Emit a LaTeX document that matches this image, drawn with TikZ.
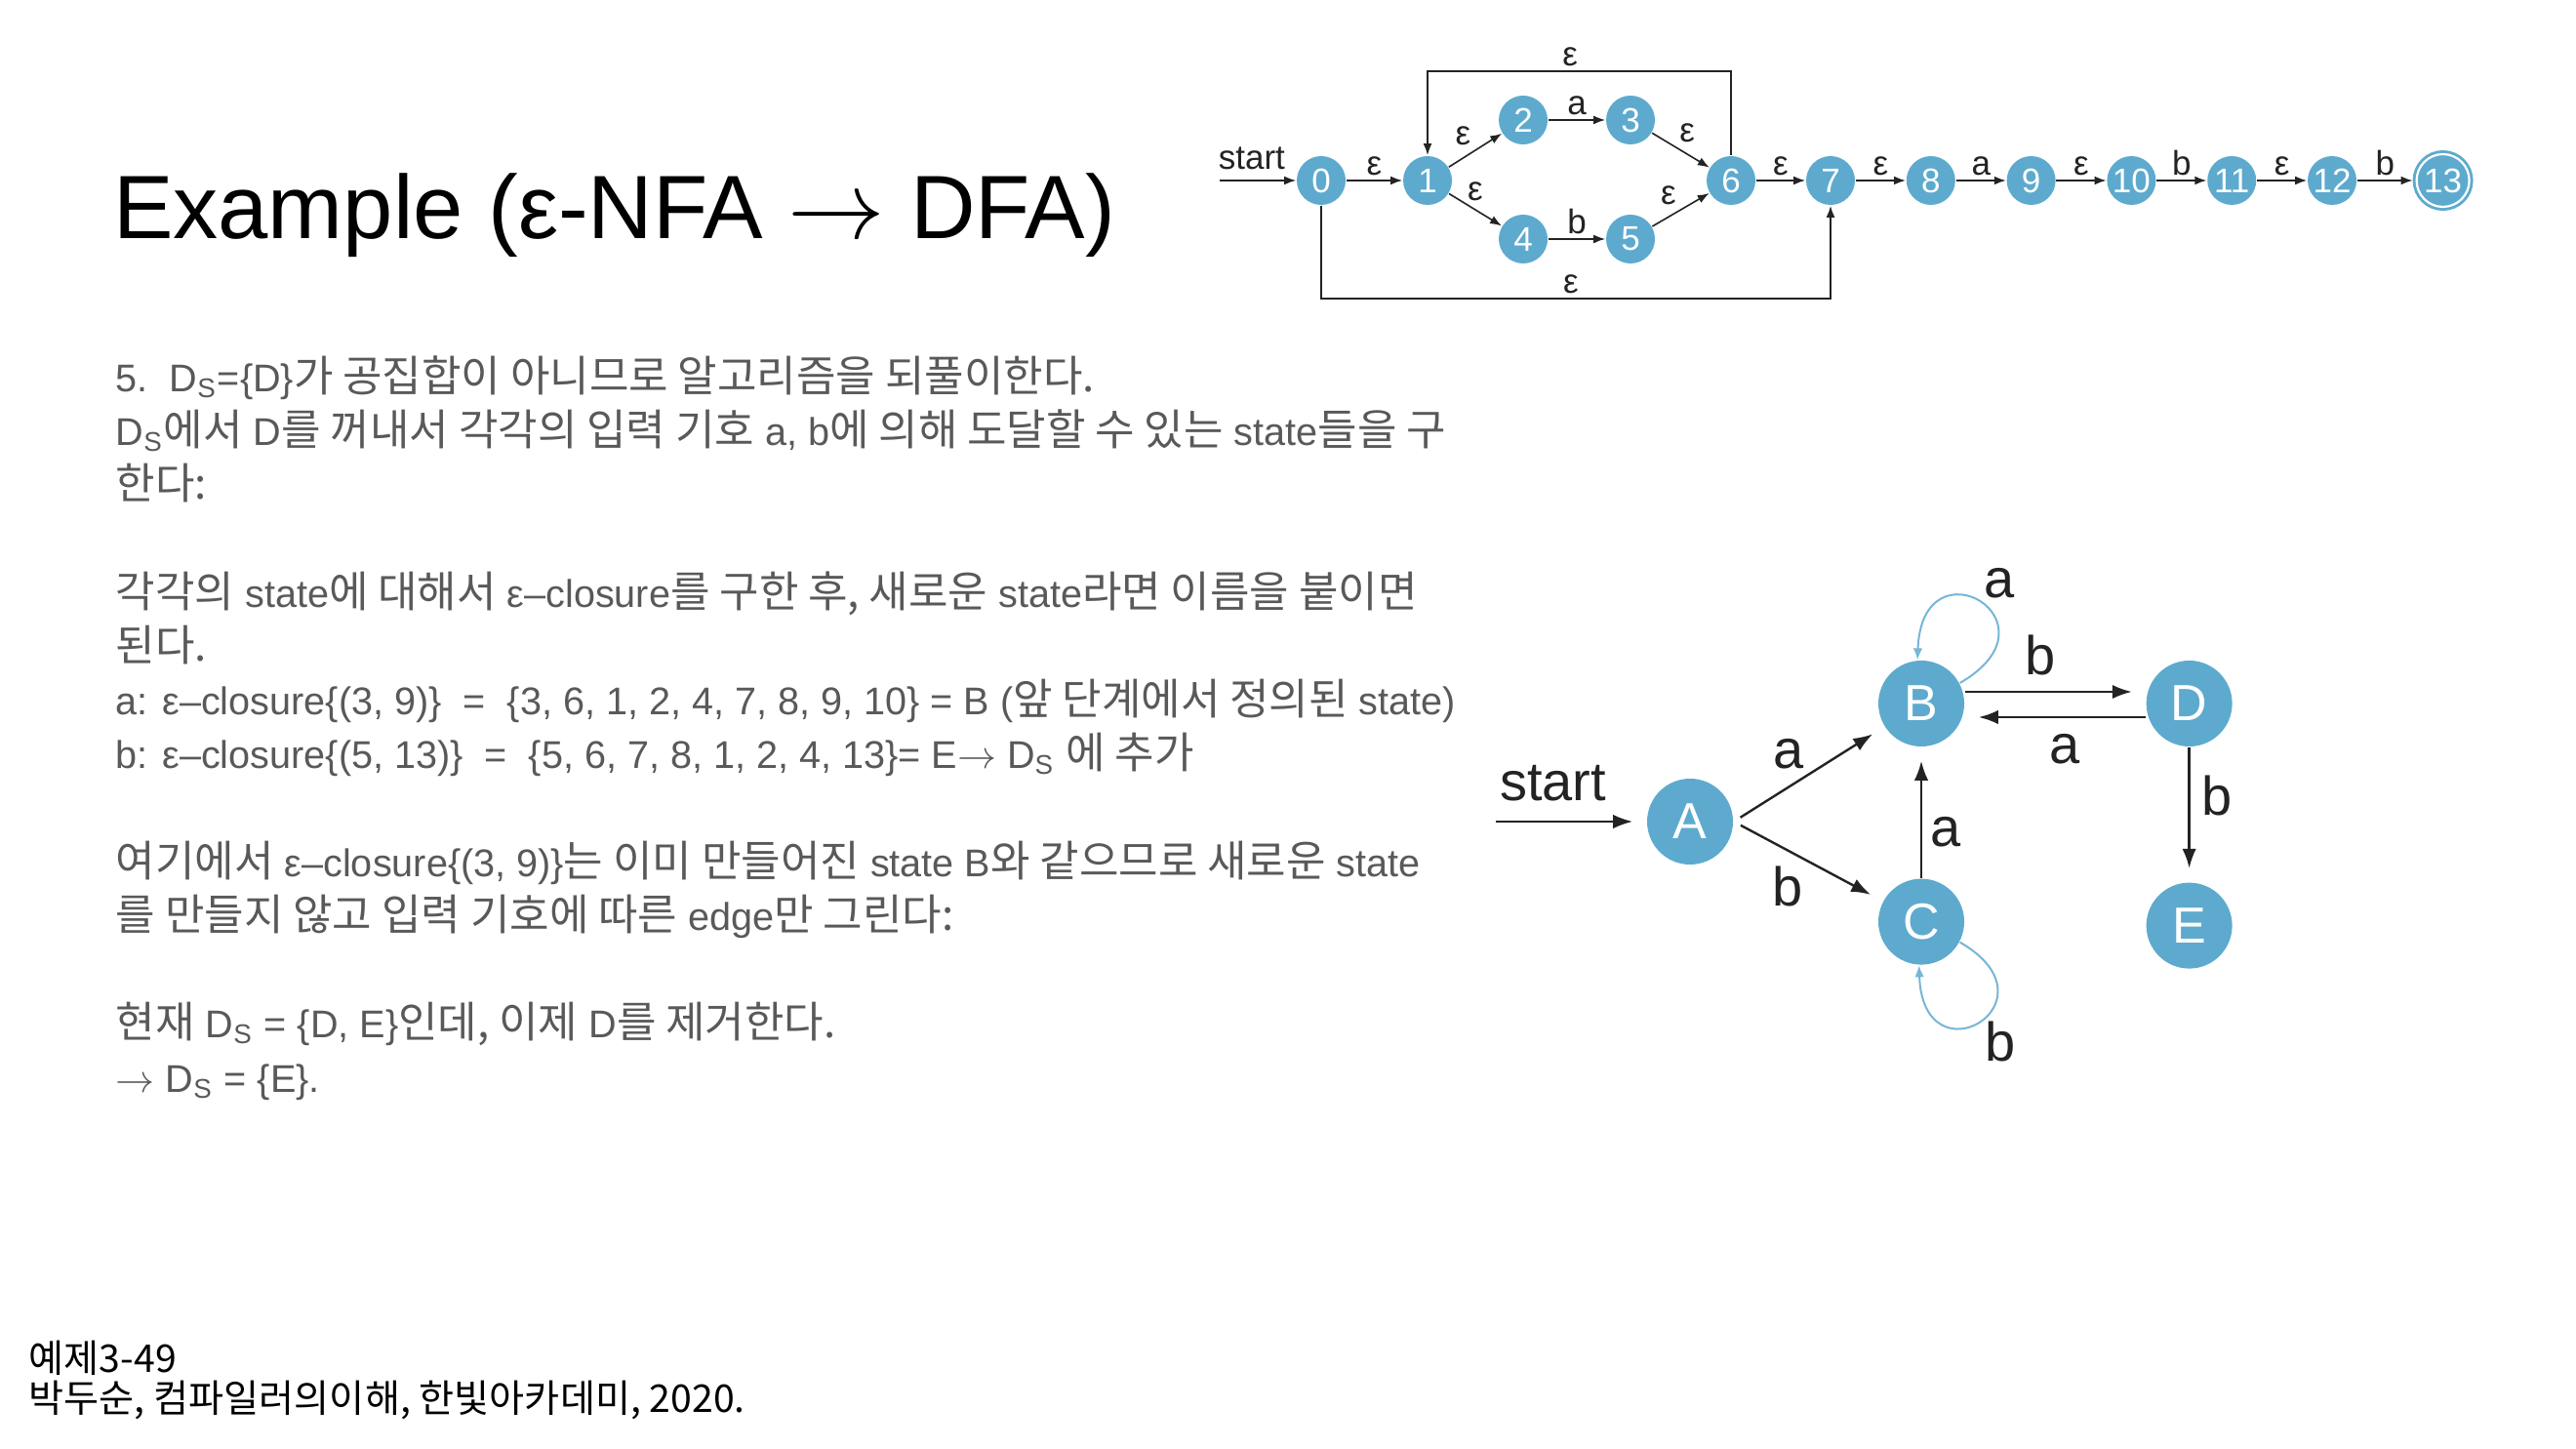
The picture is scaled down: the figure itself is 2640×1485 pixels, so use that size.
\documentclass[tikz,border=0pt]{standalone}
\usepackage{fontspec}
\setmainfont{Liberation Sans}
\newfontfamily\kofont{Noto Sans CJK KR}
\usetikzlibrary{positioning, arrows.meta}
\definecolor{stateblue}{RGB}{94,170,206}
\definecolor{loopblue}{RGB}{118,182,214}
\definecolor{bodygray}{RGB}{89,89,89}
\definecolor{inkdark}{RGB}{35,35,35}
\newcommand{\ko}[1]{{\kofont\fontsize{11}{13.8}\selectfont #1}}
\newcommand{\Ds}{D\textsubscript{S}}

\begin{document}
\begin{tikzpicture}[x=0.25pt, y=-0.25pt, >={Latex[length=3pt, width=2.2pt]},
  nst/.style={circle, fill=stateblue, text=white, minimum size=12.5pt, inner sep=0pt,
              font=\fontsize{8.75}{10}\selectfont},
  nfin/.style={nst, minimum size=13.5pt, draw=white, line width=0.55pt,
               preaction={draw=stateblue, line width=2pt}, outer sep=1pt},
  dst/.style={circle, fill=stateblue, text=white, minimum size=22pt, inner sep=0pt,
              font=\fontsize{13}{15}\selectfont},
  nlbl/.style={inner sep=1pt, text=inkdark, font=\fontsize{8.75}{10}\selectfont},
  dlbl/.style={inner sep=1pt, text=inkdark, font=\fontsize{14}{16}\selectfont},
  nedge/.style={->, draw=inkdark, line width=0.4pt},
  dedge/.style={-{Latex[length=5pt, width=3.6pt]}, draw=inkdark, line width=0.6pt,
                shorten >=3.5pt},
  selfloop/.style={-{Latex[length=3pt, width=2.4pt]}, draw=loopblue, line width=0.5pt},
  bodytxt/.style={inner sep=0pt, align=left, text=bodygray,
                  font=\fontsize{9.9}{13.8}\selectfont}]
  \useasboundingbox (0,0) rectangle (2640,1485);
  % title
  \node[anchor=base west, font=\fontsize{23.05}{27}\selectfont] (title) at (102,245)
    {Example (ε-NFA $\rightarrow$ DFA)};
  % e-NFA (top right)
  \node[nst] (n0) at (1354,185) {0};
  \node[nst] (n1) at (1463,185) {1};
  \node[nst] (n2) at (1561,123) {2};
  \node[nst] (n3) at (1671,123) {3};
  \node[nst] (n4) at (1561,245) {4};
  \node[nst] (n5) at (1671,245) {5};
  \node[nst] (n6) at (1774,185) {6};
  \node[nst] (n7) at (1876,185) {7};
  \node[nst, right=12.8pt of n7] (n8) {8};
  \node[nst, right=12.8pt of n8] (n9) {9};
  \node[nst, right=12.8pt of n9] (n10) {10};
  \node[nst, right=12.8pt of n10] (n11) {11};
  \node[nst, right=12.8pt of n11] (n12) {12};
  \node[nfin, right=14.2pt of n12] (n13) {13};
  \coordinate (s0) at (1250,185);
  \coordinate (tl) at (1463,73);
  \coordinate (br) at (1876,306);
  % e-NFA edges
  \draw[nedge] (s0) -- node[nlbl, above=1.5pt, pos=0.42] (st0) {start} (n0);
  \draw[nedge] (n0) -- node[nlbl, above] (e01) {ε} (n1);
  \draw[nedge] (n1) -- node[nlbl, above left] (e12) {ε} (n2);
  \draw[nedge] (n1) -- node[nlbl, above=1pt] (e14) {ε} (n4);
  \draw[nedge] (n2) -- node[nlbl, above] (e23) {a} (n3);
  \draw[nedge] (n4) -- node[nlbl, above] (e45) {b} (n5);
  \draw[nedge] (n3) -- node[nlbl, above right, pos=0.4] (e36) {ε} (n6);
  \draw[nedge] (n5) -- node[nlbl, above left] (e56) {ε} (n6);
  \draw[nedge] (n6) -- node[nlbl, above] (e67) {ε} (n7);
  \draw[nedge] (n7) -- node[nlbl, above] (e78) {ε} (n8);
  \draw[nedge] (n8) -- node[nlbl, above] (e89) {a} (n9);
  \draw[nedge] (n9) -- node[nlbl, above] (e910) {ε} (n10);
  \draw[nedge] (n10) -- node[nlbl, above] (e1011) {b} (n11);
  \draw[nedge] (n11) -- node[nlbl, above] (e1112) {ε} (n12);
  \draw[nedge] (n12) -- node[nlbl, above] (e1213) {b} (n13);
  \draw[nedge] (n6) |- node[nlbl, above, pos=0.765] (e61) {ε} (tl) -- (n1);
  \draw[nedge] (n0) |- node[nlbl, above, pos=0.745] (e07) {ε} (br) -- (n7);
  % DFA (right)
  \node[dst] (A) at (1732,842) {A};
  \node[dst] (B) at (1969,721) {B};
  \node[dst, below=33.5pt of B] (C) {C};
  \node[dst, right=46.25pt of B] (D) {D};
  \node[dst, below=34.5pt of D] (E) {E};
  \coordinate (s1) at (1533,842);
  \draw[dedge] (s1) -- node[dlbl, above=4pt, pos=0.38] (st1) {start} (A);
  \draw[dedge, shorten <=2pt] (A.east) -- node[dlbl, above left] (eab) {a} (B);
  \draw[dedge, shorten <=2pt] (A.east) -- node[dlbl, below left] (eac) {b} (C);
  \draw[dedge] ([yshift=3pt]B.east) -- node[dlbl, above=3pt, pos=0.42] (ebd) {b} ([yshift=3pt]D.west);
  \draw[dedge] ([yshift=-3.5pt]D.west) -- node[dlbl, below=3pt, pos=0.45] (edb) {a} ([yshift=-3.5pt]B.east);
  \draw[dedge] (C) -- node[dlbl, right=1pt, pos=0.35] (ecb) {a} (B);
  \draw[dedge] (D) -- node[dlbl, right=2pt, pos=0.36] (ede) {b} (E);
  \draw[selfloop] (B.28) to[out=30, in=88, looseness=6.5]
    node[dlbl, above right, pos=0.45, xshift=-2pt, yshift=1pt] (ebb) {a} (B.95);
  \draw[selfloop] (C.-28) to[out=-30, in=-88, looseness=6.5]
    node[dlbl, below right, pos=0.45, xshift=-1.5pt] (ecc) {b} (C.-93);
  % explanation text
  \node[bodytxt, anchor=north west] (body) at (118,364) {%
    5.\ \ \Ds=\{D\}\ko{가 공집합이 아니므로 알고리즘을 되풀이한다.}\\
    \Ds\ko{에서} D\ko{를 꺼내서 각각의 입력 기호} a, b\ko{에 의해 도달할 수 있는} state\ko{들을 구}\\
    \ko{한다:}\\[13.8pt]
    \ko{각각의} state\ko{에 대해서} ε–closure\ko{를 구한 후, 새로운} state\ko{라면 이름을 붙이면}\\
    \ko{된다.}\\
    a: ε–closure\{(3, 9)\}\ \ =\ \ \{3, 6, 1, 2, 4, 7, 8, 9, 10\} = B (\ko{앞 단계에서 정의된} state)\\
    b: ε–closure\{(5, 13)\}\ \ =\ \ \{5, 6, 7, 8, 1, 2, 4, 13\}= E$\rightarrow$ \Ds\ \ko{에 추가}\\[13.8pt]
    \ko{여기에서} ε–closure\{(3, 9)\}\ko{는 이미 만들어진} state B\ko{와 같으므로 새로운} state\\
    \ko{를 만들지 않고 입력 기호에 따른} edge\ko{만 그린다:}\\[13.8pt]
    \ko{현재} \Ds\ = \{D, E\}\ko{인데, 이제} D\ko{를 제거한다.}\\
    $\rightarrow$ \Ds\ = \{E\}.};
  % source
  \node[inner sep=0pt, align=left, anchor=north west,
        font=\kofont\fontsize{9.8}{10.25}\selectfont] (src) at (29,1373)
    {예제3-49\\박두순, 컴파일러의이해, 한빛아카데미, 2020.};
\end{tikzpicture}
\end{document}
